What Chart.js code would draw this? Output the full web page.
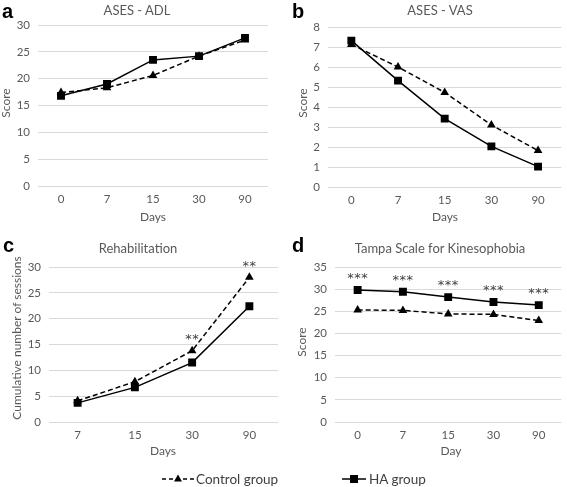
<!DOCTYPE html>
<html>
<head>
<meta charset="utf-8">
<script src="https://cdn.jsdelivr.net/npm/chart.js@4.4.0/dist/chart.umd.min.js"></script>
<style>
  body { margin: 0; background: #fff; }
  #wrap { position: relative; width: 567px; height: 487px; font-family: Lato, "Open Sans", sans-serif; color: #595959; overflow: hidden; }
  canvas { position: absolute; }
  .t { position: absolute; white-space: nowrap; transform: translate(-50%, -50%); font-size: 13px; }
  .yt { position: absolute; white-space: nowrap; font-size: 12px; width: 200px; height: 14px; line-height: 14px; text-align: center; margin-left: -100px; margin-top: -7px; transform: rotate(-90deg); }
  .ax { font-size: 12px; }
  .lab { position: absolute; font: bold 20px "Liberation Sans", Arial, sans-serif; color: #000; line-height: 1; }
  .leg { position: absolute; font-size: 13.5px; color: #404040; transform: translateY(-50%); white-space: nowrap; }
  svg { position: absolute; }
</style>
</head>
<body>
<div id="wrap">
  <canvas id="chartA" width="285" height="225" style="left:0;top:0"></canvas>
  <canvas id="chartB" width="282" height="225" style="left:285px;top:0"></canvas>
  <canvas id="chartC" width="285" height="235" style="left:0;top:225px"></canvas>
  <canvas id="chartD" width="282" height="235" style="left:285px;top:225px"></canvas>

  <div class="lab" style="left:2px;top:1px">a</div>
  <div class="lab" style="left:292px;top:1px">b</div>
  <div class="lab" style="left:3px;top:235px">c</div>
  <div class="lab" style="left:292px;top:235px">d</div>

  <div class="t" style="left:137px;top:10px">ASES - ADL</div>
  <div class="t" style="left:440px;top:10px">ASES - VAS</div>
  <div class="t" style="left:138px;top:248px">Rehabilitation</div>
  <div class="t" style="left:440px;top:248px">Tampa Scale for Kinesophobia</div>

  <div class="t ax" style="left:153px;top:216px">Days</div>
  <div class="t ax" style="left:445px;top:216px">Days</div>
  <div class="t ax" style="left:163px;top:450px">Days</div>
  <div class="t ax" style="left:451px;top:450px">Day</div>

  <div class="yt" style="left:6px;top:103px">Score</div>
  <div class="yt" style="left:303px;top:103px">Score</div>
  <div class="yt" style="left:17px;top:338px">Cumulative number of sessions</div>
  <div class="yt" style="left:302px;top:342px">Score</div>

  <svg width="36" height="18" style="left:160px;top:470px">
    <line x1="2" y1="9" x2="34" y2="9" stroke="#000" stroke-width="1.5" stroke-dasharray="4,3"/>
    <polygon points="18,4.5 22,11.5 14,11.5" fill="#000"/>
  </svg>
  <div class="leg" style="left:196px;top:479px">Control group</div>
  <svg width="28" height="18" style="left:340px;top:470px">
    <line x1="2" y1="9" x2="26" y2="9" stroke="#000" stroke-width="1.5"/>
    <rect x="10" y="5" width="8" height="8" fill="#000"/>
  </svg>
  <div class="leg" style="left:369px;top:479px">HA group</div>
</div>

<script>
// Dados
const days5 = ['0', '7', '15', '30', '90'];
const days4 = ['7', '15', '30', '90'];

const adlControl = [17.4, 18.3, 20.6, 24.2, 27.2];
const adlHA = [16.8, 19.0, 23.5, 24.2, 27.6];

const vasControl = [7.13, 6.0, 4.73, 3.1, 1.82];
const vasHA = [7.32, 5.32, 3.42, 2.03, 1.02];

const rehabControl = [4.1, 7.8, 13.8, 28.0];
const rehabHA = [3.7, 6.7, 11.5, 22.4];
const rehabStars = ['', '', '**', '**'];

const tampaControl = [25.3, 25.2, 24.4, 24.3, 22.9];
const tampaHA = [29.8, 29.4, 28.2, 27.1, 26.4];
const tampaStars = ['***', '***', '***', '***', '***'];

Chart.defaults.font.family = 'Lato, "Open Sans", sans-serif';
Chart.defaults.color = '#595959';

// Desenha os asteriscos acima dos pontos
const starsPlugin = {
	id: 'stars',
	afterDatasetsDraw(chart) {
		const ctx = chart.ctx;
		chart.data.datasets.forEach((ds, i) => {
			if (!ds.stars) return;
			const meta = chart.getDatasetMeta(i);
			ctx.save();
			ctx.font = '13px "DejaVu Sans", sans-serif';
			ctx.letterSpacing = '0.5px';
			ctx.fillStyle = '#404040';
			ctx.textAlign = 'center';
			ctx.textBaseline = 'middle';
			meta.data.forEach((pt, j) => {
				if (ds.stars[j]) ctx.fillText(ds.stars[j], pt.x, pt.y - 11);
			});
			ctx.restore();
		});
	}
};

const controlSet = (data) => ({
	label: 'Control group',
	data: data,
	borderColor: '#000',
	backgroundColor: '#000',
	borderWidth: 1.5,
	borderDash: [5, 3],
	pointStyle: 'triangle',
	pointRadius: 5,
	pointBorderWidth: 0,
	tension: 0
});

const haSet = (data) => ({
	label: 'HA group',
	data: data,
	borderColor: '#000',
	backgroundColor: '#000',
	borderWidth: 1.5,
	pointStyle: 'rect',
	pointRadius: 5.6,
	pointBorderWidth: 0,
	tension: 0
});

const createChart = (contextId, labels, datasets, yMax, yStep, plotLeft, xHeight, pad) => {
	let ctx = document.getElementById(contextId).getContext('2d');
	return new Chart(ctx, {
		type: 'line',
		data: { labels: labels, datasets: datasets },
		options: {
			responsive: false,
			animation: false,
			layout: { padding: pad },
			plugins: { legend: { display: false }, tooltip: { enabled: false } },
			scales: {
				x: {
					offset: true,
					grid: { display: false, drawTicks: false },
					border: { display: false },
					ticks: { padding: 6, font: { size: 11.5 } },
					afterFit: (s) => { s.height = xHeight; }
				},
				y: {
					min: 0,
					max: yMax,
					ticks: { stepSize: yStep, padding: 8, font: { size: 11.5 } },
					grid: { color: '#d9d9d9', drawTicks: false },
					border: { display: false },
					afterFit: (s) => { s.width = plotLeft; }
				}
			}
		},
		plugins: [starsPlugin]
	});
};

createChart('chartA', days5, [controlSet(adlControl), haSet(adlHA)], 30, 5, 38, 20,
	{ top: 25, right: 17, bottom: 19, left: 0 });

createChart('chartB', days5, [controlSet(vasControl), haSet(vasHA)], 8, 1, 43, 20,
	{ top: 27, right: 5, bottom: 18, left: 0 });

let rc = controlSet(rehabControl);
rc.stars = rehabStars;
createChart('chartC', days4, [rc, haSet(rehabHA)], 30, 5, 49, 20,
	{ top: 42, right: 7, bottom: 18, left: 0 });

let th = haSet(tampaHA);
th.stars = tampaStars;
createChart('chartD', days5, [controlSet(tampaControl), th], 35, 5, 50, 20,
	{ top: 42, right: 5, bottom: 18, left: 0 });
</script>
</body>
</html>
